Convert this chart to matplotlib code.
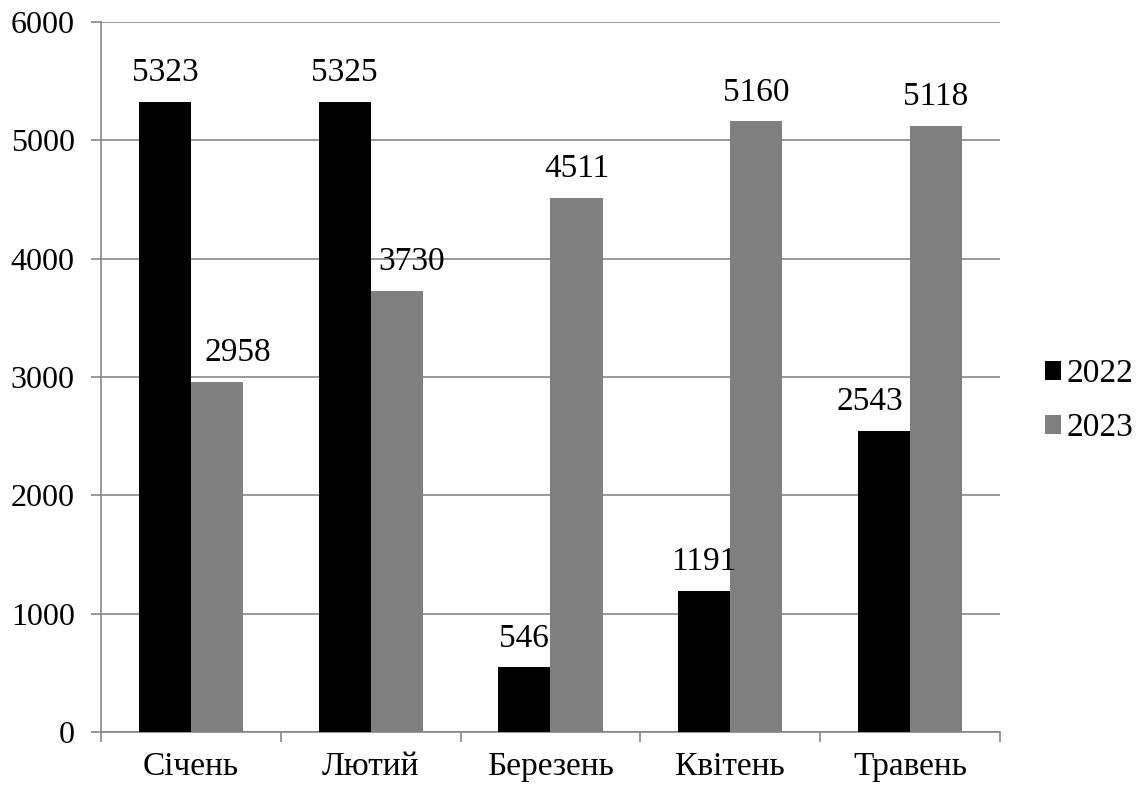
import matplotlib.pyplot as plt
import numpy as np
from matplotlib.patches import Patch

months = ['Січень', 'Лютий', 'Березень', 'Квітень', 'Травень']
years = ['2022', '2023']
v2022 = [5323, 5325, 546, 1191, 2543]
v2023 = [2958, 3730, 4511, 5160, 5118]
colors = ['#000000', '#808080']

# sideways nudges (points) so labels clear the neighbouring bar
nudge = {(1, 0): 15, (1, 1): 11, (0, 4): -10}

plt.rcParams['font.family'] = ['Liberation Serif', 'DejaVu Serif']

fig = plt.figure(figsize=(11.44, 7.89), dpi=100)
ax = fig.add_axes([0.0883, 0.0722, 0.7857, 0.8999])

x = np.arange(len(months))
w = 0.29
for i, (vals, c) in enumerate(zip([v2022, v2023], colors)):
    pos = x + (i - 0.5) * w
    ax.bar(pos, vals, width=w, color=c, zorder=3)
    for j, (p, v) in enumerate(zip(pos, vals)):
        ax.annotate(str(v), (p, v), xytext=(nudge.get((i, j), 0), 10),
                    textcoords='offset points', ha='center', va='bottom',
                    fontsize=24, zorder=5)

ax.set_xlim(-0.5, len(months) - 0.5)
ax.set_ylim(0, 6000)
ax.set_yticks(range(0, 6001, 1000))
ax.yaxis.grid(True, color='#878787', linewidth=1.2, zorder=0)
ax.set_xticks(x)
ax.set_xticklabels(months, fontsize=24)
ax.set_xticks(np.arange(-0.5, len(months), 1), minor=True)
ax.tick_params(axis='x', which='major', length=0, pad=14)
ax.tick_params(axis='x', which='minor', length=7, color='#878787', width=1.2)
ax.tick_params(axis='y', length=7, color='#878787', width=1.2, labelsize=23, pad=12)

for s in ['top', 'right']:
    ax.spines[s].set_visible(False)
for s in ['left', 'bottom']:
    ax.spines[s].set_color('#878787')
    ax.spines[s].set_linewidth(1.2)

handles = [Patch(facecolor=c, label=y) for c, y in zip(colors, years)]
fig.legend(handles=handles, loc='center left', bbox_to_anchor=(0.887, 0.492),
           frameon=False, fontsize=24, handlelength=0.5, handleheight=0.5,
           handletextpad=0.15, labelspacing=0.7)

fig.savefig('out.png')
